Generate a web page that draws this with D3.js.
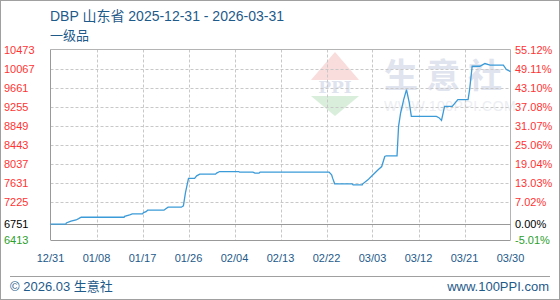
<!DOCTYPE html>
<html><head><meta charset="utf-8">
<script src="https://cdn.jsdelivr.net/npm/d3@7"></script>
<style>body{margin:0;background:#fff}svg{display:block}</style>
</head><body>
<svg id="c" width="560" height="300"></svg>
<script>
// ---- data ----
const title = "DBP 山东省 2025-12-31 - 2026-03-31";
const subtitle = "一级品";
const xTickLabels = ["12/31","01/08","01/17","01/26","02/04","02/13","02/22","03/03","03/12","03/21","03/30"];
const yTicks = [10473,10067,9661,9255,8849,8443,8037,7631,7225,6751,6413];
const pctLabels = ["55.12%","49.11%","43.10%","37.08%","31.07%","25.06%","19.04%","13.03%","7.02%","0.00%","-5.01%"];
const baseValue = 6751;
// day offsets (0 = 12/31, 90 = 03/31) and prices
const days = [0,3,3.1,4,5,5.5,6,14.4,14.5,15.5,16,18,18.2,18.7,19,22.2,22.5,23,25.6,26,26.4,27,28.2,28.6,29.2,32.3,32.5,33.1,36.8,37,39.6,40,40.8,41,54.5,55,55.2,55.6,59,59.2,61,61.1,62.1,63.1,64.1,64.8,65.4,65.7,67.8,68.1,68.5,69.1,69.65,70.2,70.6,75.5,76,76.5,77.1,78.6,79.7,81.7,82,82.5,84,84.6,85,86,88.6,89.2,90];
const prices = [6751,6751,6776,6813,6840,6868,6898,6898,6919,6947,6969,6969,6996,7018,7048,7048,7075,7112,7112,7140,7417,7727,7727,7781,7817,7817,7838,7872,7872,7860,7860,7838,7838,7860,7860,7802,7731,7610,7610,7588,7588,7610,7695,7802,7909,7979,8193,8208,8208,8834,9120,9405,9618,9334,9048,9048,9020,8962,9261,9261,9405,9405,9618,10116,10116,10152,10174,10138,10138,10046,10003];

// ---- chart ----
const svg = d3.select("#c");
const L = 50.5, R = 510.5, T = 49.5, B = 240;
const x = d3.scaleLinear().domain([0, 90]).range([L, R]);
const y = d3.scaleLinear().domain([6413, 10473]).range([B, T]);
const tickDays = xTickLabels.map((d, i) => i * 9);
const font = "'Liberation Sans', Arial, 'Noto Sans CJK SC', sans-serif";
const cjk = "'Liberation Sans', 'Noto Sans CJK SC', sans-serif";

// outer border
svg.append("rect").attr("x",0.5).attr("y",0.5).attr("width",559).attr("height",299)
  .attr("fill","#fff").attr("stroke","#a0a0a0");

// watermark
const wm = svg.append("g");
wm.append("path").attr("d", d3.line()([[335,52],[311,80],[359,80]])+"Z").attr("fill","#f9dcdc");
wm.append("path").attr("d", d3.line()([[311,96],[359,96],[335,116]])+"Z").attr("fill","#d9efdb");
wm.append("text").attr("x",335).attr("y",93).attr("text-anchor","middle")
  .attr("font-family","'DejaVu Serif', serif").attr("font-weight","bold").attr("font-size",17)
  .attr("fill","#dfe3ee").text("PPI");
wm.append("text").attr("x",384).attr("y",88).attr("font-family","'Noto Sans CJK SC', sans-serif")
  .attr("font-size",34).attr("font-weight","bold").attr("fill","#e0e4ee").attr("letter-spacing",8).text("生意社");
wm.append("text").attr("x",384).attr("y",111).attr("font-family",font)
  .attr("font-size",14).attr("fill","#eceef2").attr("letter-spacing",0.5).text("WWW.100PPI.COM");

// grid
const g = svg.append("g");
g.selectAll(".hg").data(yTicks.filter(v => v !== 6413 && v !== 10473 && v !== baseValue)).join("line")
  .attr("x1",L).attr("x2",R).attr("y1",d=>Math.round(y(d))+0.5).attr("y2",d=>Math.round(y(d))+0.5)
  .attr("stroke","#c8c8c8").attr("stroke-dasharray","3,2");
g.selectAll(".vg").data(tickDays.slice(1,-1)).join("line")
  .attr("y1",T).attr("y2",B).attr("x1",d=>Math.round(x(d))+0.5).attr("x2",d=>Math.round(x(d))+0.5)
  .attr("stroke","#c8c8c8").attr("stroke-dasharray","3,2");

// borders
g.append("line").attr("x1",L).attr("x2",R).attr("y1",T).attr("y2",T).attr("stroke","#b4b4b4");
g.append("line").attr("x1",R).attr("x2",R).attr("y1",T).attr("y2",B).attr("stroke","#b4b4b4");
g.append("line").attr("x1",L).attr("x2",R).attr("y1",B+0.5).attr("y2",B+0.5).attr("stroke","#999");
g.append("line").attr("x1",L).attr("x2",L).attr("y1",T).attr("y2",B).attr("stroke","#999");
g.append("line").attr("x1",L).attr("x2",R).attr("y1",Math.round(y(baseValue))+0.5).attr("y2",Math.round(y(baseValue))+0.5).attr("stroke","#999");

// line
const pts = days.map((d,i)=>[d, prices[i]]);
svg.append("path").datum(pts)
  .attr("d", d3.line().x(d=>x(d[0])).y(d=>y(d[1])))
  .attr("fill","none").attr("stroke","#3b9ad8").attr("stroke-width",1.3);

// y labels
const col = v => v === baseValue ? "#000" : (v < baseValue ? "#2ca02c" : "#ff3333");
svg.selectAll(".yl").data(yTicks).join("text")
  .attr("x",4).attr("y",d=>y(d)+4).attr("font-family",font).attr("font-size",11)
  .attr("fill",col).text(d=>d);
svg.selectAll(".yr").data(yTicks).join("text")
  .attr("x",515).attr("y",d=>y(d)+4).attr("font-family",font).attr("font-size",11)
  .attr("fill",col).text((d,i)=>pctLabels[i]);

// x labels
svg.selectAll(".xl").data(tickDays).join("text")
  .attr("x",d=>x(d)).attr("y",262).attr("text-anchor","middle").attr("font-family",font)
  .attr("font-size",11).attr("fill","#1e5a8a").text((d,i)=>xTickLabels[i]);

// title
svg.append("text").attr("x",50).attr("y",21).attr("font-family",cjk).attr("font-size",14)
  .attr("fill","#1e5a8a").text(title);
svg.append("text").attr("x",50).attr("y",40).attr("font-family",cjk).attr("font-size",13)
  .attr("fill","#1e5a8a").text(subtitle);

// footer
svg.append("line").attr("x1",10).attr("x2",550).attr("y1",276.5).attr("y2",276.5).attr("stroke","#a0a0a0");
svg.append("text").attr("x",10).attr("y",291).attr("font-family",cjk).attr("font-size",13)
  .attr("fill","#1e5a8a").text("© 2026.03 生意社");
svg.append("text").attr("x",549).attr("y",291).attr("text-anchor","end").attr("font-family",cjk).attr("font-size",13)
  .attr("fill","#1e5a8a").text("www.100PPI.com");
</script>
</body></html>
